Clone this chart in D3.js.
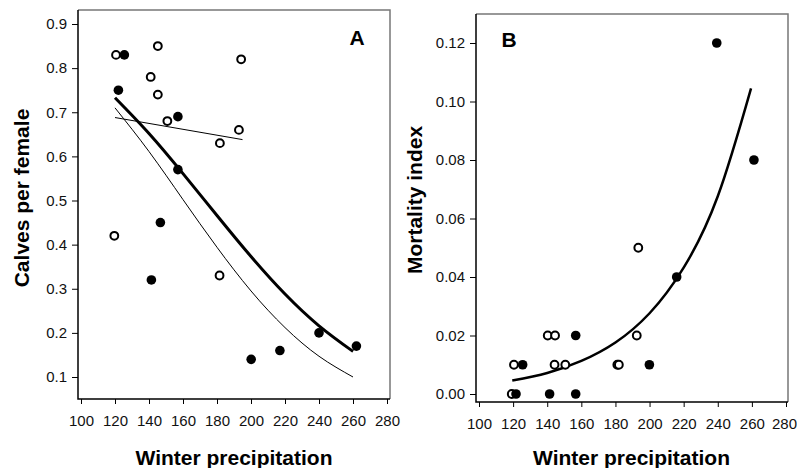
<!DOCTYPE html>
<html>
<head>
<meta charset="utf-8">
<script src="https://cdnjs.cloudflare.com/ajax/libs/d3/7.8.5/d3.min.js"></script>
<style>
  body { margin: 0; background: #fff; }
  svg { display: block; font-family: "Liberation Sans", Arial, sans-serif; }
</style>
</head>
<body>
<svg id="chart" width="797" height="468"></svg>
<script>
// ticks
const xTicks = [100, 120, 140, 160, 180, 200, 220, 240, 260, 280];
const yTicksA = [0.1, 0.2, 0.3, 0.4, 0.5, 0.6, 0.7, 0.8, 0.9];
const yTicksB = [0, 0.02, 0.04, 0.06, 0.08, 0.10, 0.12];

// panel A: calves per female vs winter precipitation
const openA = [
  [120.6, 0.83], [141, 0.78], [145.2, 0.85], [145.2, 0.74], [150.8, 0.68],
  [181.7, 0.63], [192.9, 0.66], [194.2, 0.82], [119.6, 0.42], [181.5, 0.33]
];
const filledA = [
  [125.5, 0.83], [122, 0.75], [157, 0.69], [157, 0.57], [146.7, 0.45],
  [141.4, 0.32], [200.1, 0.14], [217, 0.16], [240, 0.20], [262, 0.17]
];
// fitted lines
const fitOpenA = [[120, 0.688], [195, 0.638]];
const fitFilledA = [
  [120, 0.733], [140, 0.652], [160, 0.561], [180, 0.466],
  [200, 0.373], [220, 0.288], [240, 0.216], [260, 0.158]
];
const fitAllA = [
  [120, 0.710], [140, 0.611], [160, 0.502], [180, 0.394],
  [200, 0.295], [220, 0.212], [240, 0.147], [260, 0.100]
];

// panel B: mortality index vs winter precipitation
const openB = [
  [193.4, 0.05], [140.3, 0.02], [144.6, 0.02], [192.5, 0.02], [120.5, 0.01],
  [144.3, 0.01], [150.6, 0.01], [181.1, 0.01], [182, 0.01], [119.2, 0]
];
const filledB = [
  [239.4, 0.12], [261.2, 0.08], [215.9, 0.04], [156.7, 0.02], [125.6, 0.01],
  [199.9, 0.01], [121.7, 0], [141.4, 0], [156.7, 0]
];
const fitB = [
  [119.5, 0.0046], [140, 0.0072], [160, 0.0113], [180, 0.0176],
  [200, 0.0276], [220, 0.0432], [240, 0.0676], [259.5, 0.1045]
];

const svg = d3.select('#chart');

function panel(opts) {
  const x = d3.scaleLinear().domain([100, 280]).range(opts.xRange);
  const y = d3.scaleLinear().domain(opts.yDomain).range(opts.yRange);
  const f = opts.frame; // left, top, right, bottom
  const g = svg.append('g');

  // frame: top/right grey, left/bottom black
  g.append('path').attr('d', `M${f[0]},${f[1]}H${f[2]}V${f[3]}`)
    .attr('fill', 'none').attr('stroke', '#777').attr('stroke-width', 1.5);
  g.append('path').attr('d', `M${f[0]},${f[1]}V${f[3]}H${f[2]}`)
    .attr('fill', 'none').attr('stroke', '#000').attr('stroke-width', 1.5);

  const xAxis = g.append('g').attr('transform', `translate(0,${f[3]})`)
    .call(d3.axisBottom(x).tickValues(xTicks).tickSize(5).tickPadding(11).tickSizeOuter(0));
  const yAxis = g.append('g').attr('transform', `translate(${f[0]},0)`)
    .call(d3.axisLeft(y).tickValues(opts.yTicks).tickFormat(d3.format(opts.yFormat))
      .tickSize(6).tickPadding(5).tickSizeOuter(0));
  [xAxis, yAxis].forEach(a => {
    a.select('.domain').remove();
    a.selectAll('line').attr('stroke', '#000');
    a.selectAll('text').attr('font-size', 15).attr('fill', '#111')
      .attr('font-family', '"Liberation Sans", Arial, sans-serif');
  });
  // last x label sits against the page edge; pull it in a touch
  xAxis.selectAll('.tick:last-of-type text').attr('dx', opts.lastDx || 0);

  const line = d3.line().x(d => x(d[0])).y(d => y(d[1])).curve(d3.curveNatural);
  opts.fits.forEach(fit => {
    g.append('path').datum(fit.data).attr('d', line)
      .attr('fill', 'none').attr('stroke', '#000').attr('stroke-width', fit.w);
  });

  g.selectAll('circle.open').data(opts.open).join('circle')
    .attr('class', 'open')
    .attr('cx', d => x(d[0])).attr('cy', d => y(d[1])).attr('r', 3.9)
    .attr('fill', '#fff').attr('stroke', '#000').attr('stroke-width', 2);
  g.selectAll('circle.filled').data(opts.filled).join('circle')
    .attr('class', 'filled')
    .attr('cx', d => x(d[0])).attr('cy', d => y(d[1])).attr('r', 4.8)
    .attr('fill', '#000');

  g.append('text').attr('x', opts.letter[0]).attr('y', opts.letter[1])
    .attr('text-anchor', 'middle').attr('font-size', 21).attr('font-weight', 'bold')
    .text(opts.letterText);

  g.append('text').attr('x', opts.xTitle[0]).attr('y', opts.xTitle[1])
    .attr('text-anchor', 'middle').attr('font-size', 21).attr('font-weight', 'bold')
    .text('Winter precipitation');

  g.append('text')
    .attr('transform', `translate(${opts.yTitle[0]},${opts.yTitle[1]}) rotate(-90)`)
    .attr('text-anchor', 'middle').attr('font-size', 21).attr('font-weight', 'bold')
    .text(opts.yTitleText);
}

panel({
  xRange: [81, 387], yDomain: [0.1, 0.9], yRange: [377, 24],
  frame: [78, 10, 390, 399],
  yTicks: yTicksA, yFormat: '.1f',
  open: openA, filled: filledA,
  fits: [{ data: fitOpenA, w: 1 }, { data: fitAllA, w: 1 }, { data: fitFilledA, w: 3 }],
  letter: [357, 45], letterText: 'A',
  xTitle: [234, 465], yTitle: [28.5, 198], yTitleText: 'Calves per female'
});

panel({
  xRange: [479, 786], yDomain: [0, 0.12], yRange: [394, 43],
  frame: [476, 14, 788, 402],
  yTicks: yTicksB, yFormat: '.2f',
  open: openB, filled: filledB,
  fits: [{ data: fitB, w: 2.5 }],
  letter: [509, 46.5], letterText: 'B', lastDx: -2,
  xTitle: [631.5, 465], yTitle: [422, 200], yTitleText: 'Mortality index'
});
</script>
</body>
</html>
